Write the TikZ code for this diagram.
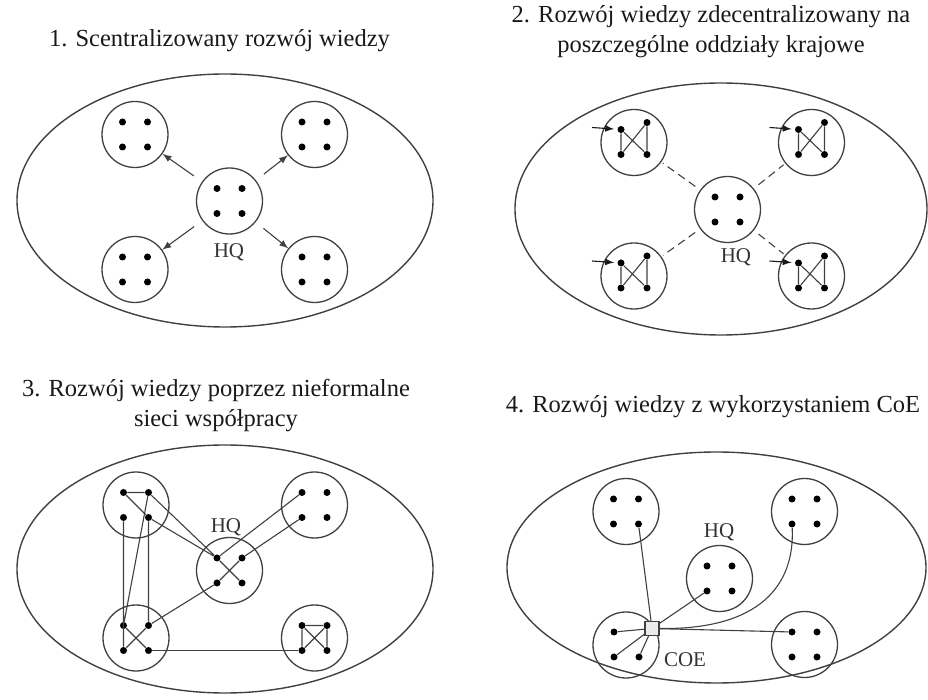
\documentclass[tikz,border=0pt]{standalone}
\usepackage{fontspec}
\setmainfont{Liberation Serif}
\usepackage{tikz}

\tikzset{
  office/.style={circle,draw=black!75,line width=0.65pt,minimum size=33pt,inner sep=0pt},
  knot/.style={circle,fill=black,minimum size=3.5pt,inner sep=0pt},
  wire/.style={draw=black!75,line width=0.55pt},
  hub/.style={draw=black!75,fill=black!8,line width=0.6pt,minimum size=7pt,inner sep=0pt},
  tag/.style={font=\rmfamily\fontsize{10.5}{12}\selectfont,text=black!80,inner sep=0pt},
  heading/.style={align=center,font=\rmfamily\fontsize{12.25}{15}\selectfont,text=black!90,inner sep=0pt}
}

\begin{document}
\begin{tikzpicture}[x=0.5pt,y=-0.5pt]
        \useasboundingbox (0,0) rectangle (928,700);

        % Headings
        \node[heading,anchor=base] (h1) at (219.5,47) {1. Scentralizowany rozwój wiedzy};
        \node[heading] (h2) at (711,32) {2. Rozwój wiedzy zdecentralizowany na\\poszczególne oddziały krajowe};
        \node[heading] (h3) at (216,406) {3. Rozwój wiedzy poprzez nieformalne\\sieci współpracy};
        \node[heading,anchor=base] (h4) at (713,413) {4. Rozwój wiedzy z wykorzystaniem CoE};

        % Draw the four country borders
        \draw[black!75,line width=0.7pt] (225,200.5) ellipse [x radius=104pt, y radius=63.25pt];
        \draw[black!75,line width=0.7pt] (721,209) ellipse [x radius=103pt, y radius=63pt];
        \draw[black!75,line width=0.7pt] (225,569) ellipse [x radius=104pt, y radius=62pt];
        \draw[black!75,line width=0.7pt] (716.5,567.5) ellipse [x radius=104.75pt, y radius=57.75pt];

        % 1: headquarters pushes knowledge out to the units
        \foreach \n/\x/\y in {p1tl/135/134.5, p1tr/314.5/134.5, p1hq/229.5/201, p1bl/135/269.5, p1br/314.5/269.5} {
            \node[office] (\n) at (\x,\y) {};
            \node[knot] (\n-nw) at ([shift={(-12.5,-12.5)}]\n.center) {};
            \node[knot] (\n-ne) at ([shift={(12.5,-12.5)}]\n.center) {};
            \node[knot] (\n-sw) at ([shift={(-12.5,12.5)}]\n.center) {};
            \node[knot] (\n-se) at ([shift={(12.5,12.5)}]\n.center) {};
        }
        \node[tag] (p1name) at (229,252) {HQ};
        \foreach \t in {p1tl,p1tr,p1bl,p1br}
            \draw[wire,-latex,shorten <=5pt] (p1hq) -- (\t);

        % 2: every unit develops its own knowledge
        \node[office] (p2hq) at (727.5,209.5) {};
        \node[knot] (p2hq-nw) at ([shift={(-12.5,-12.5)}]p2hq.center) {};
        \node[knot] (p2hq-ne) at ([shift={(12.5,-12.5)}]p2hq.center) {};
        \node[knot] (p2hq-sw) at ([shift={(-12.5,12.5)}]p2hq.center) {};
        \node[knot] (p2hq-se) at ([shift={(12.5,12.5)}]p2hq.center) {};
        \node[tag] (p2name) at (736,257) {HQ};
        \foreach \n/\x/\y in {p2tl/634/142.5, p2tr/811.5/142.5, p2bl/634/276, p2br/811.5/276} {
            \node[office] (\n) at (\x,\y) {};
            \node[knot] (\n-nw) at ([shift={(-13,-13)}]\n.center) {};
            \node[knot] (\n-ne) at ([shift={(13,-20)}]\n.center) {};
            \node[knot] (\n-sw) at ([shift={(-13,12)}]\n.center) {};
            \node[knot] (\n-se) at ([shift={(13,12)}]\n.center) {};
            \draw[wire] (\n-nw) -- (\n-sw) (\n-ne) -- (\n-se)
                        (\n-nw) -- (\n-se) (\n-ne) -- (\n-sw);
            \coordinate (\n-in) at ([shift={(-29,-2)}]\n-nw);
            \draw[wire,draw=black!90,-latex,shorten >=1.5pt] (\n-in) -- (\n-nw);
            \draw[wire,dash pattern=on 4pt off 2.5pt,shorten <=3pt,shorten >=1pt] (p2hq) -- (\n);
        }

        % 3: informal links between the units
        \foreach \n/\x/\y in {p3tl/136/505, p3tr/314.5/505, p3hq/229.5/570.5, p3bl/136/638, p3br/314.5/638} {
            \node[office] (\n) at (\x,\y) {};
            \node[knot] (\n-nw) at ([shift={(-12.5,-12.5)}]\n.center) {};
            \node[knot] (\n-ne) at ([shift={(12.5,-12.5)}]\n.center) {};
            \node[knot] (\n-sw) at ([shift={(-12.5,12.5)}]\n.center) {};
            \node[knot] (\n-se) at ([shift={(12.5,12.5)}]\n.center) {};
        }
        \node[tag] (p3name) at (226,527) {HQ};
        \draw[wire] (p3tl-nw) -- (p3tl-ne) (p3tl-nw) -- (p3tl-se);
        \draw[wire] (p3tl-ne) -- (p3hq-nw) (p3tl-se) -- (p3hq-nw);
        \draw[wire] (p3tl-ne) -- (p3bl-nw) (p3tl-se) -- (p3bl-ne) (p3tl-sw) -- (p3bl-sw);
        \draw[wire] (p3hq-nw) -- (p3hq-se) (p3hq-ne) -- (p3hq-sw);
        \draw[wire] (p3hq-nw) -- (p3tr-nw) (p3tr-sw) -- (p3hq-ne) (p3hq-sw) -- (p3bl-ne);
        \draw[wire] (p3bl-nw) -- (p3bl-se) (p3bl-ne) -- (p3bl-sw);
        \draw[wire] (p3bl-se) -- (p3br-sw);
        \draw[wire] (p3br-nw) -- (p3br-ne) (p3br-nw) -- (p3br-sw) (p3br-ne) -- (p3br-se)
                    (p3br-nw) -- (p3br-se) (p3br-ne) -- (p3br-sw);

        % 4: a centre of excellence gathers the knowledge
        \foreach \n/\x/\y in {p4tl/626/511.5, p4tr/804.5/511.5, p4hq/719.5/578.5, p4br/804.5/644.5} {
            \node[office] (\n) at (\x,\y) {};
            \node[knot] (\n-nw) at ([shift={(-12.5,-12.5)}]\n.center) {};
            \node[knot] (\n-ne) at ([shift={(12.5,-12.5)}]\n.center) {};
            \node[knot] (\n-sw) at ([shift={(-12.5,12.5)}]\n.center) {};
            \node[knot] (\n-se) at ([shift={(12.5,12.5)}]\n.center) {};
        }
        \node[office] (p4bl) at (626,645) {};
        \node[knot] (p4bl-nw) at ([shift={(-12,-13)}]p4bl.center) {};
        \node[knot] (p4bl-sw) at ([shift={(-12,12)}]p4bl.center) {};
        \node[knot] (p4bl-se) at ([shift={(13,12)}]p4bl.center) {};
        \node[tag] (p4name) at (719,532) {HQ};
        \node[hub] (coe) at (652,628.5) {};
        \node[tag] (coename) at (685,660) {COE};
        \draw[wire] (coe) -- (p4bl-nw) (coe) -- (p4bl-sw) (coe) -- (p4bl-se);
        \draw[wire] (coe) -- (p4tl-se) (coe) -- (p4hq-sw) (coe) -- (p4br-nw);
        \draw[wire] (coe.east) .. controls (760,630) and (795,585) .. (p4tr-sw);
    \end{tikzpicture}
\end{document}
